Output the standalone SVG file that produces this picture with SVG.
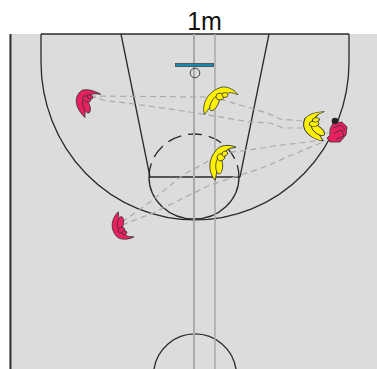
<svg xmlns="http://www.w3.org/2000/svg" width="377" height="369" viewBox="0 0 377 369">
<style>
.line{fill:none;stroke:#2a2a2a;stroke-width:1.3}
.lane{fill:none;stroke:#aaa;stroke-linecap:butt}
.pass{fill:none;stroke:#aaa;stroke-width:1.2;stroke-dasharray:6 4}
.y{fill:#fff200}
.r{fill:#e8205f}
.part{stroke:#333;stroke-width:.8;stroke-linejoin:round}
text{font-family:"Liberation Sans",Arial,sans-serif;font-size:25px;fill:#111;text-anchor:middle}
</style>
<defs>
<g id="player">
<path class="part" d="M-16.500,11 C-19.500,1 -14,-12 1,-16.500 C7,-17 13,-14 17,-9 L15,-9.500 C11,-11.500 7,-11 4,-9 C-3,-6 -10,2 -16.500,11 Z"/>
<ellipse class="part" cx="-6.500" cy="0" rx="8" ry="3.500" transform="rotate(-62 -6.500 0)"/>
<ellipse class="part" cx="-1" cy="-7" rx="4" ry="3.500"/>
<ellipse class="part" cx="4" cy="-8.500" rx="3" ry="2.400"/>
</g>
</defs>
<rect x="9" y="34" width="368" height="335" fill="#dcdcdc"/>
<g id="court">
<line x1="10.500" y1="34" x2="10.500" y2="369" stroke="#333" stroke-width="2"/>
<path class="line" d="M41,34 H349"/>
<path class="line" d="M41,34 V62 A154,158 0 0 0 349,62 V34" stroke-width="1.600"/>
<path class="line" d="M121,34 L150,177 M269,34 L240,177 M149,177 H240"/>
<path class="line" d="M149,177 A45,42 0 0 0 239,177"/>
<path class="line" d="M149,177 A45,43 0 0 1 239,177" stroke-dasharray="14 7"/>
<path class="line" d="M154,369 A41.500,41.500 0 0 1 236,369"/>
<line class="lane" x1="194" y1="34" x2="194" y2="369" stroke-width="2"/>
<line class="lane" x1="215" y1="34" x2="215" y2="369" stroke-width="1.500"/>
<rect x="175.500" y="63.500" width="38" height="3" fill="#1689b0" stroke="#444" stroke-width=".8"/>
<circle cx="195" cy="73" r="4.800" fill="none" stroke="#444" stroke-width="1"/>
</g>
<text x="204.500" y="30">1m</text>
<g id="connectors">
<path class="pass" d="M90,96 L205,97 L223,100 L250,108 L267,113 L280,119 L302,121"/>
<path class="pass" d="M90,96 L107,101 L127,103 L190,112 L250,122 L270,123 L283,128 L305,128"/>
<path class="pass" d="M122,222 L150,202 L183,175 L223,153 L250,150 L273,146 L300,143 L322,140"/>
<path class="pass" d="M122,225 L153,213 L210,185 L250,172 L267,166 L287,157 L323,142"/>
<path class="pass" d="M317,130 L332,134"/>
</g>
<g id="player-red-left"><use href="#player" class="r" transform="translate(92,105) rotate(-56) scale(.72,1.2) rotate(30.7)"/></g>
<g id="player-red-bottom"><use href="#player" class="r" transform="translate(125.500,225) rotate(58) scale(.76,-.95) rotate(30.7)"/></g>
<g id="player-yellow-top"><use href="#player" class="y" transform="translate(221,103.500)"/></g>
<g id="player-yellow-center"><use href="#player" class="y" transform="translate(225,163) rotate(-27)"/></g>
<g id="player-yellow-right"><use href="#player" class="y" transform="translate(322.500,126) rotate(-88) scale(.76,1.3) rotate(30.7)"/></g>
<g id="player-red-right">
<path class="r part" d="M333,123 L342,122 L347,127 L346,135 L340,142 L330,142 L327,138 L330,135 L330,129 Z"/>
<path class="part" fill="none" d="M333,128 L341,125 L345,130 M334,133 L342,130 L344,136 L336,139"/>
<circle cx="335" cy="121" r="3.300" fill="#222"/>
</g>
</svg>
